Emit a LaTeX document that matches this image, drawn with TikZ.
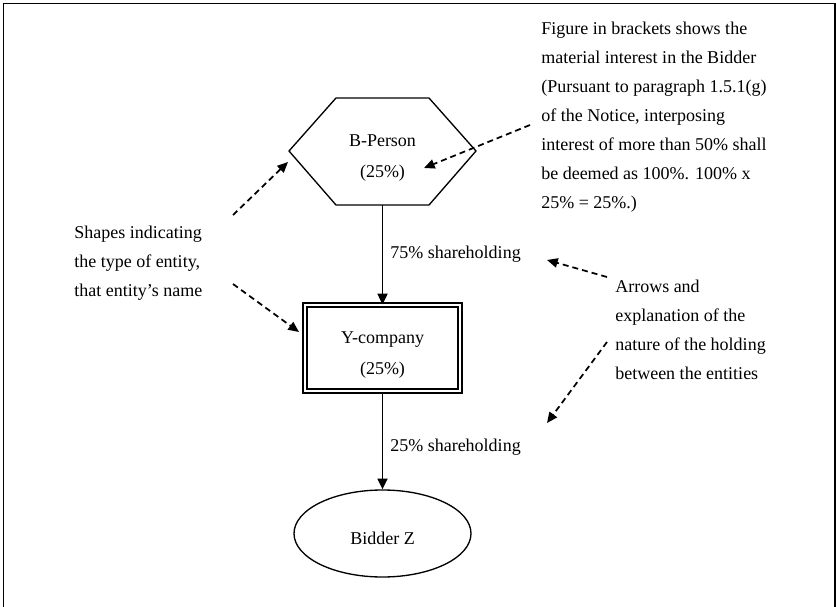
\documentclass[tikz,border=0pt]{standalone}
\usepackage{fontspec}
\setmainfont{Liberation Serif}
\usetikzlibrary{arrows.meta,shapes.geometric}
\begin{document}
\begin{tikzpicture}[x=0.75pt,y=-0.75pt,
  txt/.style={font=\fontsize{13.5}{21.75}\selectfont, inner sep=0, align=left},
  entitytxt/.style={font=\fontsize{13.5}{23}\selectfont, inner sep=0, align=center},
  shapeline/.style={draw, line width=1pt},
  solidarrow/.style={line width=1.3pt, -{Triangle[length=8pt,width=7.5pt]}},
  notearrow/.style={line width=1.3pt, dash pattern=on 4.5pt off 3pt, -{Triangle[length=8pt,width=7pt]}}]
\useasboundingbox (0,0) rectangle (836,607);
% frame (open at the bottom)
\draw[line width=1.1pt] (3.5,607) -- (3.5,3.5) -- (835,3.5) -- (835,607);

% B-Person hexagon
\draw[shapeline] (289,151) -- (336,98) -- (429,98) -- (476,151) -- (429,205) -- (336,205) -- cycle;
\coordinate (bpS) at (382.5,205);
\node[entitytxt] (bp) at (382.5,158) {B-Person\\(25\%)};

% Y-company double rectangle
\node[draw, line width=0.9pt, double, double distance=2pt, minimum width=116.25pt, minimum height=64.5pt, inner sep=0] (yc) at (382.5,348) {};
\node[entitytxt] (yct) at (382.5,355) {Y-company\\(25\%)};

% Bidder Z ellipse
\node[draw, ellipse, line width=1pt, minimum width=132.75pt, minimum height=65.25pt, inner sep=0] (bz) at (382.5,533.5) {};
\node[txt] (bzt) at (382.5,538) {Bidder Z};

% holdings
\draw[solidarrow] (bpS) -- (yc.north);
\draw[solidarrow] (yc.south) -- (bz.north);
\node[txt, anchor=west] (l75) at (390,254.5) {75\% shareholding};
\node[txt, anchor=west] (l25) at (390,447) {25\% shareholding};

% explanatory notes
\node[txt, anchor=west] (noteR) at (541,117.5) {Figure in brackets shows the\\material interest in the Bidder\\(Pursuant to paragraph 1.5.1(g)\\of the Notice, interposing\\interest of more than 50\% shall\\be deemed as 100\%. 100\% x\\25\% = 25\%.)};
\node[txt, anchor=west] (noteL) at (74,263) {Shapes indicating\\the type of entity,\\that entity’s name};
\node[txt, anchor=west] (noteA) at (615,330) {Arrows and\\explanation of the\\nature of the holding\\between the entities};

% note arrows
\coordinate (a1s) at (530,125); \coordinate (a1e) at (424,168);
\coordinate (a2s) at (233,215); \coordinate (a2e) at (288,162);
\coordinate (a3s) at (233,284); \coordinate (a3e) at (299,332);
\coordinate (a4s) at (607,277); \coordinate (a4e) at (547,260);
\coordinate (a5s) at (607,342); \coordinate (a5e) at (547,423);
\draw[notearrow] (a1s) -- (a1e);
\draw[notearrow] (a2s) -- (a2e);
\draw[notearrow] (a3s) -- (a3e);
\draw[notearrow] (a4s) -- (a4e);
\draw[notearrow] (a5s) -- (a5e);
\end{tikzpicture}
\end{document}
